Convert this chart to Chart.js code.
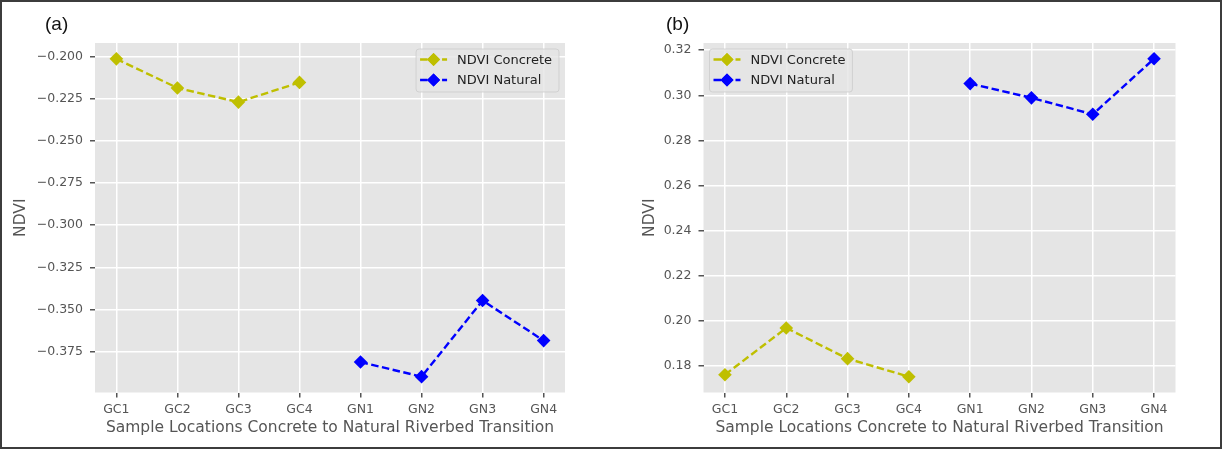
<!DOCTYPE html>
<html lang="en">

<head>
    <meta charset="UTF-8">
    <title>NDVI – Concrete to Natural Riverbed Transition</title>
    <script src="https://cdn.jsdelivr.net/npm/chart.js"></script>
    <style>
        body { margin: 0; background: #fff; }
        #wrap { position: relative; width: 1225px; height: 450px; }
        #frame { position: absolute; left: 0; top: 0; width: 1222px; height: 449px;
                 box-sizing: border-box; border: 2px solid #3c3c3c; pointer-events: none; }
        .panel { position: absolute; top: 0; height: 450px; }
        .tag { position: absolute; top: 13px; font: 19px "Liberation Sans", Arial, sans-serif; color: #111; }
    </style>
</head>

<body>
    <div id="wrap">
        <canvas id="chartA" class="panel" style="left:0" width="612" height="450"></canvas>
        <canvas id="chartB" class="panel" style="left:612px" width="613" height="450"></canvas>
        <div class="tag" style="left:45px">(a)</div>
        <div class="tag" style="left:666px">(b)</div>
        <div id="frame"></div>
    </div>
    <script>
        // sample locations along the channel
        const locations = ['GC1', 'GC2', 'GC3', 'GC4', 'GN1', 'GN2', 'GN3', 'GN4'];

        // panel (a)
        const concreteA = [-0.2012, -0.2185, -0.2269, -0.2152];
        const naturalA = [-0.3812, -0.3899, -0.3447, -0.3685];
        const yTicksA = [-0.200, -0.225, -0.250, -0.275, -0.300, -0.325, -0.350, -0.375];

        // panel (b)
        const concreteB = [0.1762, 0.1969, 0.1833, 0.1753];
        const naturalB = [0.3052, 0.2989, 0.2916, 0.3162];
        const yTicksB = [0.18, 0.20, 0.22, 0.24, 0.26, 0.28, 0.30, 0.32];

        const YELLOW = '#bfbf00';
        const BLUE = '#0000ff';
        const GREY_TXT = '#555555';

        Chart.defaults.font.family = '"DejaVu Sans", sans-serif';
        Chart.defaults.animation = false;

        // grey ggplot-like panel background
        const panelBg = {
            id: 'panelBg',
            beforeDraw(chart) {
                const { ctx, chartArea: a } = chart;
                ctx.save();
                ctx.fillStyle = '#e5e5e5';
                ctx.fillRect(a.left, a.top, a.right - a.left, a.bottom - a.top);
                ctx.restore();
            }
        };

        // matplotlib-style legend drawn inside the plot area
        const insideLegend = {
            id: 'insideLegend',
            afterDatasetsDraw(chart, args, opts) {
                const { ctx, chartArea: a } = chart;
                const sets = chart.data.datasets;
                ctx.save();
                ctx.font = '13px "DejaVu Sans", sans-serif';
                const textW = Math.max(...sets.map(d => ctx.measureText(d.label).width));
                const w = textW + 48, h = 43;
                const x = opts.corner === 'right' ? a.right - 6 - w : a.left + 6;
                const y = a.top + 6;
                ctx.beginPath();
                ctx.roundRect(x, y, w, h, 3);
                ctx.fillStyle = 'rgba(229,229,229,0.8)';
                ctx.fill();
                ctx.strokeStyle = 'rgba(204,204,204,0.8)';
                ctx.lineWidth = 1;
                ctx.stroke();
                sets.forEach((d, i) => {
                    const ry = y + 10.5 + i * 20.5;
                    ctx.strokeStyle = d.borderColor;
                    ctx.lineWidth = d.borderWidth;
                    ctx.setLineDash(d.borderDash);
                    ctx.beginPath();
                    ctx.moveTo(x + 4, ry);
                    ctx.lineTo(x + 31, ry);
                    ctx.stroke();
                    ctx.setLineDash([]);
                    ctx.fillStyle = d.borderColor;
                    Chart.helpers.drawPoint(ctx, { pointStyle: 'rectRot', radius: 6.5, borderWidth: 0 }, x + 17.5, ry);
                    ctx.fill();
                    ctx.fillStyle = '#222';
                    ctx.textBaseline = 'middle';
                    ctx.textAlign = 'left';
                    ctx.fillText(d.label, x + 41, ry + 1);
                });
                ctx.restore();
            }
        };

        let series = (label, values, offset, color) => ({
            label: label,
            data: values.map((v, i) => ({ x: i + offset, y: v })),
            borderColor: color,
            backgroundColor: color,
            borderWidth: 2.4,
            borderDash: [7.5, 3.5],
            pointStyle: 'rectRot',
            pointRadius: 6.8,
            pointBorderWidth: 0,
            pointHoverRadius: 6.8,
            tension: 0
        });

        let makeChart = (canvasId, concrete, natural, yTicks, yRange, digits, geom) => {
            const fmt = v => v.toFixed(digits).replace('-', '\u2212');
            return new Chart(document.getElementById(canvasId), {
                type: 'line',
                data: {
                    datasets: [
                        series('NDVI Concrete', concrete, 0, YELLOW),
                        series('NDVI Natural', natural, concrete.length, BLUE)
                    ]
                },
                options: {
                    responsive: false,
                    layout: { padding: { left: 0, top: 43, right: geom.right, bottom: 0 } },
                    plugins: {
                        legend: { display: false },
                        tooltip: { enabled: false },
                        insideLegend: { corner: geom.corner }
                    },
                    scales: {
                        x: {
                            type: 'linear',
                            min: -0.35,
                            max: locations.length - 1 + 0.35,
                            afterBuildTicks: s => { s.ticks = locations.map((_, i) => ({ value: i })); },
                            afterFit: s => { s.height = 57.5; },
                            border: { display: false },
                            grid: { color: '#ffffff', lineWidth: 1.5, tickColor: GREY_TXT, tickLength: 5 },
                            ticks: {
                                color: GREY_TXT,
                                font: { size: 12.5 },
                                padding: 5,
                                maxRotation: 0,
                                callback: v => locations[v]
                            },
                            title: {
                                display: true,
                                text: 'Sample Locations Concrete to Natural Riverbed Transition',
                                color: GREY_TXT,
                                font: { size: 15.5 },
                                padding: { top: 0, bottom: 12.7 }
                            }
                        },
                        y: {
                            min: yRange[0],
                            max: yRange[1],
                            afterBuildTicks: s => { s.ticks = yTicks.map(v => ({ value: v })); },
                            afterFit: s => { s.width = geom.left; },
                            border: { display: false },
                            grid: { color: '#ffffff', lineWidth: 1.5, tickColor: GREY_TXT, tickLength: 5 },
                            ticks: {
                                color: GREY_TXT,
                                font: { size: 12.5 },
                                padding: 7,
                                callback: v => fmt(v)
                            },
                            title: {
                                display: true,
                                text: 'NDVI',
                                color: GREY_TXT,
                                font: { size: 15.5 },
                                padding: { top: geom.titlePad, bottom: 0 }
                            }
                        }
                    }
                },
                plugins: [panelBg, insideLegend]
            });
        };

        makeChart('chartA', concreteA, naturalA, yTicksA, [-0.3993, -0.1918], 3,
            { left: 95, right: 47, titlePad: 11.2, corner: 'right' });
        makeChart('chartB', concreteB, naturalB, yTicksB, [0.1683, 0.3232], 2,
            { left: 91.5, right: 49.5, titlePad: 28.7, corner: 'left' });
    </script>
</body>

</html>
